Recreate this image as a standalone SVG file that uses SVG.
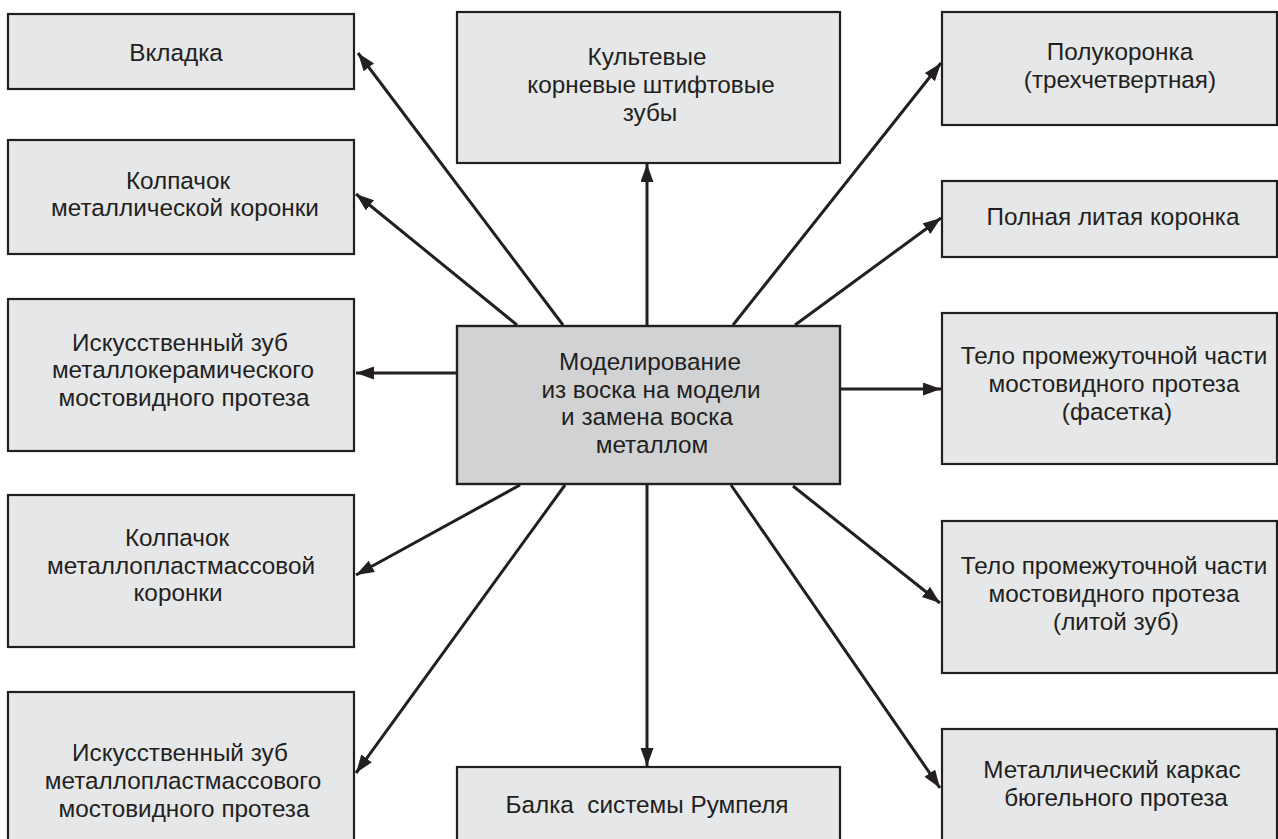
<svg xmlns="http://www.w3.org/2000/svg" width="1278" height="839" viewBox="0 0 1278 839">
<style>
.box{fill:#e6e7e8;stroke:#231f20;stroke-width:2.2}
.main{fill:#d1d2d4;stroke:#231f20;stroke-width:2.4}
.t{font-family:"Liberation Sans",Arial,sans-serif;font-size:24.3px;fill:#231f20;text-anchor:middle}
.c{stroke:#231f20;stroke-width:3;fill:none;marker-end:url(#ah)}
</style>
<defs>
<marker id="ah" markerUnits="userSpaceOnUse" markerWidth="20" markerHeight="14" refX="18" refY="6.5" orient="auto">
<path d="M0,0 L18,6.5 L0,13 z" fill="#231f20"/>
</marker>
</defs>
<rect width="1278" height="839" fill="#ffffff"/>
<g id="connectors">
<line class="c" x1="563" y1="325" x2="358" y2="53"/>
<line class="c" x1="517" y1="325" x2="356" y2="194"/>
<line class="c" x1="457" y1="373" x2="356" y2="373"/>
<line class="c" x1="520" y1="485" x2="356" y2="575"/>
<line class="c" x1="565" y1="485" x2="356" y2="773"/>
<line class="c" x1="647" y1="325" x2="647" y2="164"/>
<line class="c" x1="647" y1="485" x2="647" y2="766"/>
<line class="c" x1="733" y1="325" x2="941" y2="63"/>
<line class="c" x1="795" y1="325" x2="941" y2="218"/>
<line class="c" x1="840" y1="389" x2="941" y2="389"/>
<line class="c" x1="793" y1="486" x2="940" y2="603"/>
<line class="c" x1="731" y1="485" x2="940" y2="788"/>
</g>
<g id="n-vkladka">
<rect class="box" x="8" y="14" width="346" height="75"/>
<text class="t" x="176" y="61">Вкладка</text>
</g>
<g id="n-kolpachok-met">
<rect class="box" x="8" y="140" width="346" height="114"/>
<text class="t" x="178" y="189">Колпачок</text>
<text class="t" x="185" y="216">металлической коронки</text>
</g>
<g id="n-zub-metallokeram">
<rect class="box" x="8" y="299" width="346" height="152"/>
<text class="t" x="180" y="351">Искусственный зуб</text>
<text class="t" x="183" y="378">металлокерамического</text>
<text class="t" x="184" y="406">мостовидного протеза</text>
</g>
<g id="n-kolpachok-mp">
<rect class="box" x="8" y="495" width="346" height="152"/>
<text class="t" x="177" y="546">Колпачок</text>
<text class="t" x="181" y="574">металлопластмассовой</text>
<text class="t" x="178" y="601">коронки</text>
</g>
<g id="n-zub-mp">
<rect class="box" x="8" y="692" width="346" height="160"/>
<text class="t" x="180" y="761">Искусственный зуб</text>
<text class="t" x="183" y="789">металлопластмассового</text>
<text class="t" x="184" y="817">мостовидного протеза</text>
</g>
<g id="n-kultevye">
<rect class="box" x="457" y="12" width="383" height="151"/>
<text class="t" x="647" y="65">Культевые</text>
<text class="t" x="651" y="93">корневые штифтовые</text>
<text class="t" x="650" y="121">зубы</text>
</g>
<g id="n-center">
<rect class="main" x="457" y="326" width="383" height="158"/>
<text class="t" x="650" y="370">Моделирование</text>
<text class="t" x="651" y="398">из воска на модели</text>
<text class="t" x="647" y="425">и замена воска</text>
<text class="t" x="652" y="453">металлом</text>
</g>
<g id="n-balka">
<rect class="box" x="457" y="767" width="383" height="85"/>
<text class="t" x="647" y="813" style="white-space:pre">Балка  системы Румпеля</text>
</g>
<g id="n-polukoronka">
<rect class="box" x="942" y="12" width="335" height="113"/>
<text class="t" x="1120" y="60">Полукоронка</text>
<text class="t" x="1120" y="88">(трехчетвертная)</text>
</g>
<g id="n-polnaya">
<rect class="box" x="942" y="181" width="335" height="76"/>
<text class="t" x="1113" y="225">Полная литая коронка</text>
</g>
<g id="n-faseta">
<rect class="box" x="942" y="313" width="335" height="151"/>
<text class="t" x="1114" y="364">Тело промежуточной части</text>
<text class="t" x="1114" y="392">мостовидного протеза</text>
<text class="t" x="1117" y="420">(фасетка)</text>
</g>
<g id="n-litoy">
<rect class="box" x="942" y="521" width="335" height="152"/>
<text class="t" x="1114" y="574">Тело промежуточной части</text>
<text class="t" x="1114" y="602">мостовидного протеза</text>
<text class="t" x="1116" y="630">(литой зуб)</text>
</g>
<g id="n-karkas">
<rect class="box" x="942" y="729" width="335" height="123"/>
<text class="t" x="1112" y="778">Металлический каркас</text>
<text class="t" x="1116" y="806">бюгельного протеза</text>
</g>
</svg>
